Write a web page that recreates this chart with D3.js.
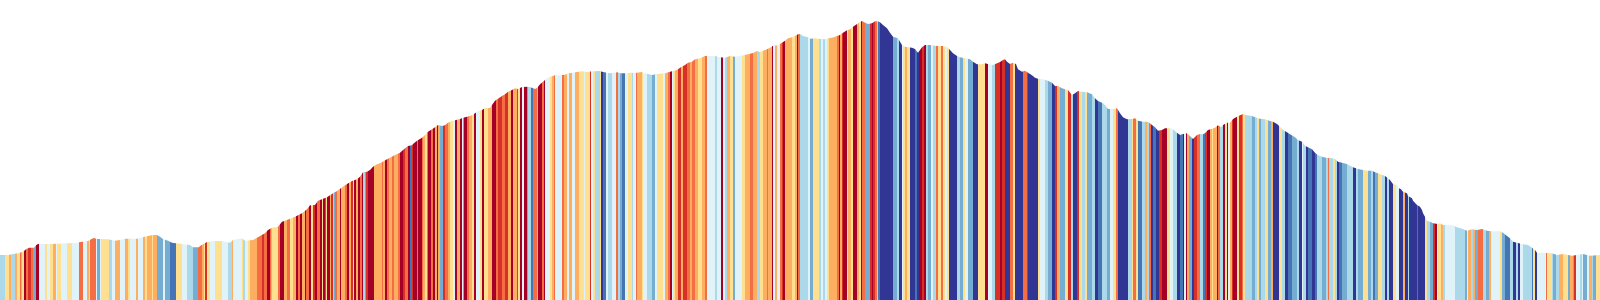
<!DOCTYPE html>
<html>
<head>
<meta charset="utf-8" />
<script src="https://cdnjs.cloudflare.com/ajax/libs/d3/7.8.5/d3.min.js"></script>
<style>
body { margin: 0; background: #fff; }
#chart { display: block; }
</style>
</head>
<body>
<svg id="chart" width="1600" height="300"></svg>
<script>
// elevation profile: distance (stripe index) and elevation
var profileDist = [0,8,20,24,26,29,34,36,38,52,78,80,88,92,94,97,108,115,120,125,138,143,148,153,157,160,163,168,172,180,190,193,199,
  200,207,215,222,230,233,242,245,253,258,260,265,268,272,278,282,287,295,302,307,310,315,318,327,333,337,343,347,352,357,360,363,367,370,373,377,380,387,395,400,403,408,412,413,417,422,425,428,432,435,438,
  442,445,448,452,455,460,463,467,472,475,478,482,485,490,492,495,498,502,505,508,512,515,518,522,528,532,535,537,540,543,547,550,555,560,565,568,573,577,582,587,592,600,
  602,607,610,618,620,627,630,637,642,645,652,657,665,670,673,677,680,685,688,692,695,700,705,715,720,725,730,735,740,745,750,753,757,760,763,767,770,773,778,782,785,788,792,795,798,800,
  803,808,810,815,820,825,828,832,837,840,843,847,850,853,857,860,862,865,868,872,875,878,880,883,887,890,893,898,900,902,905,908,912,915,918,922,925,930,937,942,947,950,953,957,960,965,970,973,977,982,985,988,993,997,1000,
  1003,1005,1007,1010,1013,1016,1018,1022,1025,1028,1032,1035,1038,1043,1048,1052,1055,1058,1062,1065,1068,1072,1075,1078,1082,1087,1092,1095,1098,1102,1105,1108,1113,1117,1120,1123,1127,1132,1135,1138,1143,1148,1152,1155,1158,1162,1165,1170,1173,1177,1180,1183,1187,1190,1193,1197,1200,
  1203,1205,1208,1212,1215,1218,1221,1223,1227,1230,1233,1237,1240,1243,1247,1252,1255,1260,1265,1270,1273,1277,1280,1283,1287,1290,1295,1298,1302,1305,1308,1312,1315,1318,1322,1326,1332,1335,1338,1342,1347,1350,1353,1358,1363,1368,1372,1375,
  1380,1385,1388,1390,1392,1393,1397,1399,1401,1403,1407,1408,1412,1413,1417,1420,1422,1423,1425,1427,1430,1433,1438,1440,
  1443,1453,1457,1462,1467,1472,1477,1482,1487,1492,1500,1503,1507,1510,1513,1517,1522,1528,1532,1535,1537,1543,1552,1557,1563,1572,1583,1590,1600];

var profileElev = [45,45,47.3,49,50.7,52.3,52.3,54.7,56,56,57.3,58,59,61.3,62,61,60.7,59.3,60,61.3,61.3,63,64,65,65,63.3,61,59.3,57.3,56.3,55,52.7,52.7,
  54,58,59,59,57.3,60,61.7,59.3,60,62.7,64,66.7,70,72.3,73.3,78.3,80,83.3,86.7,90.7,94.7,95,99.3,102.7,106.7,109,113.3,116,119,120.7,123.3,127.7,128.3,130,133.3,135.7,136.7,140.7,145,147.3,150,154,154.7,156,159.3,162.3,165,168.3,170.7,172.7,175,
  174,174.7,177.3,179,179.7,181,182.3,183.3,184.7,186.7,189,190,192,192,195,199.3,201.3,204,205.7,208.3,210,211.7,211,213,213.3,212.3,211,212,215.7,218.3,221.7,223.3,224.7,224.7,225.3,226.7,227.3,228,228.7,228,228.7,229,
  228.3,227.3,226.7,227.7,226.7,226.7,227.3,227.3,228,226.7,225,226,226.7,228.3,229,230,232.3,235,237.3,238.3,240.7,241.7,244,244,242.7,242.3,244,243.3,244,245,246.3,247,249,248,249.3,250.7,252.3,254.3,254.7,257.3,259.3,261.7,262.7,264,265.7,266,
  264,262.7,261.3,261.7,261,260.7,261.7,262.3,264,265,267.3,269.7,270.7,273.3,276,278,279,277.3,276,276.7,278.7,278.7,277.7,275,271.7,267.3,263.3,261.7,258.3,255,253.3,252.7,252.3,251,247.3,252.7,255,255,254,254,253.3,250,246.7,244,242.7,241.7,240.7,238.3,235.7,235.7,236.7,236,235,236.7,238,
  240,240.7,238.3,236,237.3,236,230.7,228.3,229.3,227.3,224.7,222.3,221.3,220.7,219.3,217.3,214,214,211.7,210.7,210,205,206.7,209,208.3,207.7,205.7,201.7,199,197.3,195,191,191,191.7,186.7,182.7,180.7,181,181.7,179.3,178.3,178.3,175,172.7,169.3,170,171.7,171.7,170.7,167.3,165,166,166.7,164,161,165,166,
  165.7,166.7,170,171.3,172.3,174.7,172.7,175,177.3,177.3,181,183.3,184.7,186,184.7,184,182.7,181.3,180.7,179,178.3,176,173.3,170,167.7,165.7,162.7,160,158.3,154.3,152.7,150.7,147.3,144.7,143.3,142.3,141.7,141,138.3,137.3,136,134.3,132.7,131,130,129.3,129.3,127.7,
  126,124,121.7,120,117.3,116,115,111.7,110.7,108.3,106.7,104,101.7,99.3,95,93.3,90,86.7,83.3,79.3,78.3,76.7,76,76.7,
  75,74.7,72.7,71.3,69.3,70.7,70,71,69.3,68.7,68.7,67.3,64,61.7,58.3,57.3,56,55,52.3,50,47.3,47.3,46.7,45,46,44.3,46,44.3,45];

// gradient class stripes: start index and class (0 = steep descent ... 9 = steep climb)
var stripeStart = [0,5,9,11,15,17,20,21,22,24,26,28,31,33,36,39,45,47,50,53,56,57,61,67,72,79,83,87,89,90,96,97,100,101,109,112,115,120,125,128,130,136,138,143,145,147,152,153,157,163,165,170,176,182,187,193,198,
  200,202,204,205,207,210,215,222,228,232,233,242,243,245,248,250,257,262,264,267,270,271,272,278,280,284,287,290,293,296,298,300,302,305,306,309,311,313,315,317,320,322,323,325,326,327,330,331,333,334,335,337,340,341,345,347,349,351,353,354,356,358,360,362,363,365,366,368,
  374,382,383,385,387,389,392,394,398,400,403,405,408,410,412,413,417,418,422,423,425,427,428,431,433,435,437,438,
  440,443,445,448,450,453,455,457,460,462,463,464,467,469,472,474,476,480,482,484,488,492,496,498,502,505,508,511,513,517,518,520,522,524,527,528,531,533,537,538,542,544,545,550,552,554,555,562,564,567,569,572,575,579,584,585,590,591,593,595,
  600,601,603,606,608,612,616,618,620,622,625,628,632,633,636,637,642,643,647,652,655,657,663,665,668,670,672,673,675,678,681,683,687,690,692,695,698,702,705,707,715,717,721,723,725,727,730,733,735,742,745,750,753,757,760,763,767,768,772,773,775,777,780,782,783,785,792,795,797,798,
  800,808,810,813,819,821,823,825,827,829,837,839,840,842,843,847,848,851,853,857,859,861,862,865,870,872,873,875,877,878,880,893,897,899,902,903,905,907,910,915,917,919,922,924,926,928,931,933,936,938,941,943,945,947,949,957,960,963,965,968,973,978,985,988,992,995,
  1000,1002,1005,1010,1013,1015,1023,1027,1028,1038,1040,1045,1048,1052,1055,1057,1060,1065,1068,1071,1073,1077,1079,1082,1085,1087,1092,1095,1098,1102,1107,1110,1113,1116,1118,1128,1132,1133,1136,1138,1142,1145,1147,1149,1151,1153,1156,1159,1162,1167,1170,1173,1177,1180,1183,1184,1186,1187,1189,1192,1194,1197,
  1200,1203,1205,1207,1210,1212,1213,1217,1218,1220,1223,1225,1227,1228,1230,1232,1233,1237,1239,1242,1243,1245,1252,1255,1257,1259,1261,1265,1268,1271,1273,1279,1282,1285,1288,1292,1297,1299,1302,1303,1306,1308,1312,1315,1317,1322,1326,1328,1329,1333,1335,1337,1339,1342,1347,1353,1356,1358,1363,1368,1371,1373,1375,1378,
  1382,1385,1387,1389,1393,1396,1399,1403,1405,1408,1409,1417,1418,1425,1427,1430,1433,1435,1437,1438,
  1441,1443,1445,1455,1465,1467,1468,1471,1473,1475,1478,1483,1486,1489,1491,1500,1502,1505,1510,1513,1516,1518,1520,1523,1532,1533,1535,1537,1546,1547,1552,1553,1556,1559,1563,1568,1570,1573,1574,1576,1580,1582,1583,1587,1589,1592,1593,1596];

var stripeClass = [3,5,6,3,6,5,7,6,5,9,7,8,7,2,9,4,5,4,5,6,4,5,4,5,4,7,4,6,5,7,4,2,4,5,3,4,6,4,6,5,4,6,4,6,5,6,5,6,2,4,2,1,5,4,3,2,7,
  7,6,5,8,5,4,5,4,3,6,4,5,3,4,5,6,7,8,7,9,7,6,5,7,9,6,7,5,6,9,7,9,6,9,7,9,5,8,9,7,9,5,9,1,5,9,6,8,3,2,7,6,9,6,7,9,6,8,5,9,6,9,7,9,3,2,8,9,
  6,7,6,9,7,6,7,6,7,9,8,7,9,1,8,9,7,9,7,6,5,7,9,7,9,6,9,6,
  2,8,7,6,5,4,9,6,9,4,2,9,7,6,5,9,4,5,9,5,6,9,7,8,7,8,6,9,6,1,5,9,4,9,2,3,1,7,6,9,7,9,4,5,6,7,4,7,6,4,6,4,6,5,4,5,8,4,5,3,
  5,0,1,4,3,4,7,3,2,1,4,5,3,4,7,6,5,4,3,2,4,5,4,6,7,9,4,5,6,8,6,8,7,6,7,6,5,6,7,4,3,4,9,4,3,6,5,2,4,5,6,7,6,3,5,6,7,6,9,4,6,4,7,8,9,6,5,6,9,7,
  3,4,2,5,3,4,3,4,5,6,7,9,6,8,9,5,6,5,9,6,5,9,7,2,8,9,8,7,3,1,0,2,3,0,4,5,6,5,0,1,0,9,8,9,3,2,4,3,7,5,7,5,4,5,0,3,2,5,4,2,0,5,9,4,3,8,
  9,8,0,7,5,0,7,8,0,5,4,3,2,0,8,6,2,5,8,3,0,8,5,3,5,2,3,0,1,3,2,4,5,7,0,3,5,7,5,1,3,6,3,7,0,1,0,8,9,5,4,3,0,1,9,4,9,6,2,0,8,7,
  3,1,8,9,6,5,6,9,7,3,9,5,9,4,6,8,9,5,8,7,5,3,2,3,5,2,3,5,2,6,0,5,3,0,1,2,3,0,4,3,0,1,0,1,3,2,3,7,3,5,3,0,1,2,3,0,3,2,5,2,3,1,2,5,
  3,0,3,0,5,4,0,6,0,3,0,1,0,5,3,2,8,9,4,5,
  6,3,4,3,2,4,6,3,6,2,7,3,2,6,4,5,2,1,3,0,3,0,4,3,1,5,0,4,7,5,3,2,3,6,5,2,6,2,8,4,3,4,2,4,6,3,2,5];

var svg = d3.select("#chart"),
    width = +svg.attr("width"),
    height = +svg.attr("height");

var x = d3.scaleLinear().domain([0, 1600]).range([0, width]);
var y = d3.scaleLinear().domain([0, 300]).range([height, 0]);
var color = d3.scaleOrdinal()
    .domain(d3.range(10))
    .range(d3.schemeRdYlBu[10].slice().reverse());

var profile = profileDist.map(function(d, i) { return {dist: d, elev: profileElev[i]}; });
var stripes = stripeStart.map(function(d, i) {
  return {start: d, end: i < stripeStart.length - 1 ? stripeStart[i + 1] : 1600, cls: stripeClass[i]};
});

var area = d3.area()
    .x(function(d) { return x(d.dist); })
    .y0(height)
    .y1(function(d) { return y(d.elev); });

svg.append("clipPath")
    .attr("id", "profileClip")
  .append("path")
    .attr("d", area(profile));

svg.append("g")
    .attr("clip-path", "url(#profileClip)")
  .selectAll("rect")
  .data(stripes)
  .join("rect")
    .attr("x", function(d) { return x(d.start); })
    .attr("y", 0)
    .attr("width", function(d) { return x(d.end) - x(d.start); })
    .attr("height", height)
    .attr("shape-rendering", "crispEdges")
    .attr("fill", function(d) { return color(d.cls); });
</script>
</body>
</html>
